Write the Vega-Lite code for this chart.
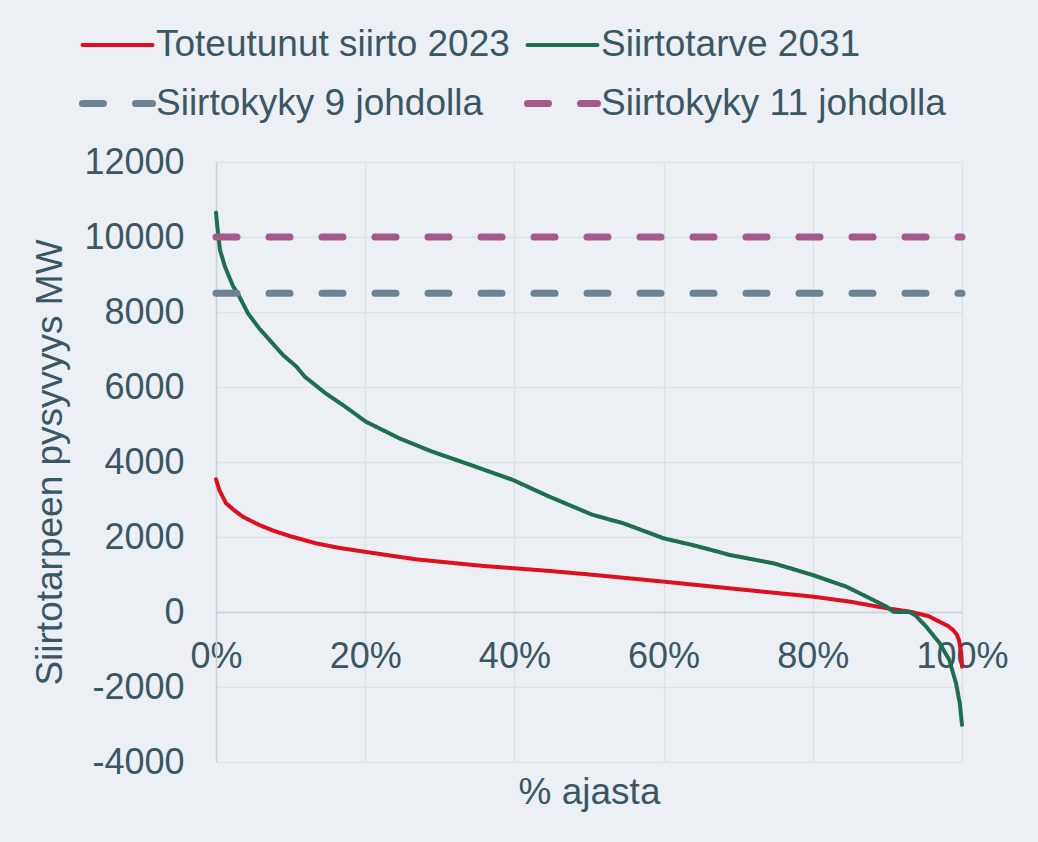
{
  "$schema": "https://vega.github.io/schema/vega-lite/v6.json",
  "width": 746,
  "height": 600,
  "autosize": {"type": "none"},
  "padding": {"left": 216, "top": 162, "right": 76, "bottom": 80},
  "background": "#ECF0F4",
  "config": {
    "view": {"stroke": null},
    "font": "Liberation Sans",
    "axis": {
      "gridColor": "#DCE3E8",
      "gridWidth": 1.5,
      "domainColor": "#C8D2D9",
      "domainWidth": 1.5,
      "ticks": false,
      "labelFontSize": 36,
      "labelColor": "#3B5764",
      "titleFontSize": 37,
      "titleFontWeight": "normal",
      "titleColor": "#3B5764",
      "labelOverlap": false
    },
    "legend": {
      "orient": "none",
      "direction": "horizontal",
      "columns": 2,
      "padding": 0,
      "symbolType": "stroke",
      "symbolSize": 4900,
      "labelFontSize": 37,
      "labelColor": "#3B5764",
      "labelLimit": 600,
      "labelOffset": 0,
      "rowPadding": 2,
      "columnPadding": 3,
      "symbolOffset": 0
    }
  },
  "data": {
    "values": [
      {"s": "Toteutunut siirto 2023", "p": 0, "v": 3540},
      {"s": "Toteutunut siirto 2023", "p": 0.0045, "v": 3250},
      {"s": "Toteutunut siirto 2023", "p": 0.0134, "v": 2900},
      {"s": "Toteutunut siirto 2023", "p": 0.024, "v": 2720},
      {"s": "Toteutunut siirto 2023", "p": 0.036, "v": 2540},
      {"s": "Toteutunut siirto 2023", "p": 0.058, "v": 2320},
      {"s": "Toteutunut siirto 2023", "p": 0.078, "v": 2160},
      {"s": "Toteutunut siirto 2023", "p": 0.098, "v": 2030},
      {"s": "Toteutunut siirto 2023", "p": 0.134, "v": 1830},
      {"s": "Toteutunut siirto 2023", "p": 0.165, "v": 1710},
      {"s": "Toteutunut siirto 2023", "p": 0.198, "v": 1610},
      {"s": "Toteutunut siirto 2023", "p": 0.268, "v": 1405},
      {"s": "Toteutunut siirto 2023", "p": 0.357, "v": 1230},
      {"s": "Toteutunut siirto 2023", "p": 0.447, "v": 1095},
      {"s": "Toteutunut siirto 2023", "p": 0.501, "v": 1000},
      {"s": "Toteutunut siirto 2023", "p": 0.6, "v": 810},
      {"s": "Toteutunut siirto 2023", "p": 0.702, "v": 605},
      {"s": "Toteutunut siirto 2023", "p": 0.8, "v": 410},
      {"s": "Toteutunut siirto 2023", "p": 0.85, "v": 275},
      {"s": "Toteutunut siirto 2023", "p": 0.899, "v": 100},
      {"s": "Toteutunut siirto 2023", "p": 0.93, "v": 10},
      {"s": "Toteutunut siirto 2023", "p": 0.955, "v": -110},
      {"s": "Toteutunut siirto 2023", "p": 0.97, "v": -260},
      {"s": "Toteutunut siirto 2023", "p": 0.981, "v": -370},
      {"s": "Toteutunut siirto 2023", "p": 0.988, "v": -480},
      {"s": "Toteutunut siirto 2023", "p": 0.993, "v": -600},
      {"s": "Toteutunut siirto 2023", "p": 0.996, "v": -750},
      {"s": "Toteutunut siirto 2023", "p": 0.999, "v": -1100},
      {"s": "Toteutunut siirto 2023", "p": 1, "v": -1460},
      {"s": "Siirtotarve 2031", "p": 0, "v": 10650},
      {"s": "Siirtotarve 2031", "p": 0.0018, "v": 10280},
      {"s": "Siirtotarve 2031", "p": 0.0054, "v": 9650},
      {"s": "Siirtotarve 2031", "p": 0.012, "v": 9210},
      {"s": "Siirtotarve 2031", "p": 0.023, "v": 8680},
      {"s": "Siirtotarve 2031", "p": 0.029, "v": 8500},
      {"s": "Siirtotarve 2031", "p": 0.043, "v": 7960},
      {"s": "Siirtotarve 2031", "p": 0.058, "v": 7560},
      {"s": "Siirtotarve 2031", "p": 0.072, "v": 7250},
      {"s": "Siirtotarve 2031", "p": 0.09, "v": 6850},
      {"s": "Siirtotarve 2031", "p": 0.108, "v": 6540},
      {"s": "Siirtotarve 2031", "p": 0.119, "v": 6275},
      {"s": "Siirtotarve 2031", "p": 0.147, "v": 5830},
      {"s": "Siirtotarve 2031", "p": 0.17, "v": 5520},
      {"s": "Siirtotarve 2031", "p": 0.201, "v": 5075},
      {"s": "Siirtotarve 2031", "p": 0.246, "v": 4630},
      {"s": "Siirtotarve 2031", "p": 0.29, "v": 4275},
      {"s": "Siirtotarve 2031", "p": 0.335, "v": 3965},
      {"s": "Siirtotarve 2031", "p": 0.398, "v": 3520},
      {"s": "Siirtotarve 2031", "p": 0.447, "v": 3075},
      {"s": "Siirtotarve 2031", "p": 0.505, "v": 2590},
      {"s": "Siirtotarve 2031", "p": 0.546, "v": 2365},
      {"s": "Siirtotarve 2031", "p": 0.6, "v": 1965},
      {"s": "Siirtotarve 2031", "p": 0.644, "v": 1760},
      {"s": "Siirtotarve 2031", "p": 0.689, "v": 1520},
      {"s": "Siirtotarve 2031", "p": 0.747, "v": 1300},
      {"s": "Siirtotarve 2031", "p": 0.8, "v": 985},
      {"s": "Siirtotarve 2031", "p": 0.845, "v": 675},
      {"s": "Siirtotarve 2031", "p": 0.872, "v": 410},
      {"s": "Siirtotarve 2031", "p": 0.899, "v": 140},
      {"s": "Siirtotarve 2031", "p": 0.908, "v": 10},
      {"s": "Siirtotarve 2031", "p": 0.912, "v": 0},
      {"s": "Siirtotarve 2031", "p": 0.93, "v": 0},
      {"s": "Siirtotarve 2031", "p": 0.938, "v": -100},
      {"s": "Siirtotarve 2031", "p": 0.952, "v": -390},
      {"s": "Siirtotarve 2031", "p": 0.97, "v": -830},
      {"s": "Siirtotarve 2031", "p": 0.983, "v": -1280},
      {"s": "Siirtotarve 2031", "p": 0.992, "v": -1900},
      {"s": "Siirtotarve 2031", "p": 0.997, "v": -2430},
      {"s": "Siirtotarve 2031", "p": 1, "v": -3010},
      {"s": "Siirtokyky 9 johdolla", "p": 0, "v": 8500},
      {"s": "Siirtokyky 9 johdolla", "p": 1, "v": 8500},
      {"s": "Siirtokyky 11 johdolla", "p": 0, "v": 10000},
      {"s": "Siirtokyky 11 johdolla", "p": 1, "v": 10000}
    ]
  },
  "mark": {"type": "line", "strokeCap": "round", "strokeJoin": "round"},
  "encoding": {
    "x": {
      "field": "p",
      "type": "quantitative",
      "scale": {"domain": [0, 1], "nice": false, "zero": false},
      "axis": {
        "title": "% ajasta",
        "format": ".0%",
        "values": [0, 0.2, 0.4, 0.6, 0.8, 1],
        "offset": -150,
        "labelPadding": 27,
        "labelFlush": false,
        "titleY": 162,
        "titleBaseline": "top"
      }
    },
    "y": {
      "field": "v",
      "type": "quantitative",
      "scale": {"domain": [-4000, 12000], "nice": false},
      "axis": {
        "title": "Siirtotarpeen pysyvyys MW",
        "values": [-4000, -2000, 0, 2000, 4000, 6000, 8000, 10000, 12000],
        "labelExpr": "'' + datum.value",
        "labelPadding": 32,
        "titlePadding": 14
      }
    },
    "color": {
      "field": "s",
      "type": "nominal",
      "scale": {
        "domain": ["Toteutunut siirto 2023", "Siirtotarve 2031", "Siirtokyky 9 johdolla", "Siirtokyky 11 johdolla"],
        "range": ["#DC101E", "#1E6E50", "#6E8391", "#A45A88"]
      },
      "legend": {
        "title": null,
        "orient": "none",
        "direction": "horizontal",
        "columns": 2,
        "legendX": -137,
        "legendY": -154,
        "encode": {"symbols": {"update": {"strokeCap": {"value": "round"}}}}
      }
    },
    "strokeDash": {
      "field": "s",
      "type": "nominal",
      "scale": {
        "domain": ["Toteutunut siirto 2023", "Siirtotarve 2031", "Siirtokyky 9 johdolla", "Siirtokyky 11 johdolla"],
        "range": [[1, 0], [1, 0], [21, 32], [21, 32]]
      },
      "legend": {
        "title": null,
        "orient": "none",
        "direction": "horizontal",
        "columns": 2,
        "legendX": -137,
        "legendY": -154
      }
    },
    "strokeWidth": {
      "field": "s",
      "type": "nominal",
      "scale": {
        "type": "ordinal",
        "domain": ["Toteutunut siirto 2023", "Siirtotarve 2031", "Siirtokyky 9 johdolla", "Siirtokyky 11 johdolla"],
        "range": [4, 4, 7, 7]
      },
      "legend": {
        "title": null,
        "orient": "none",
        "direction": "horizontal",
        "columns": 2,
        "legendX": -137,
        "legendY": -154
      }
    }
  }
}
